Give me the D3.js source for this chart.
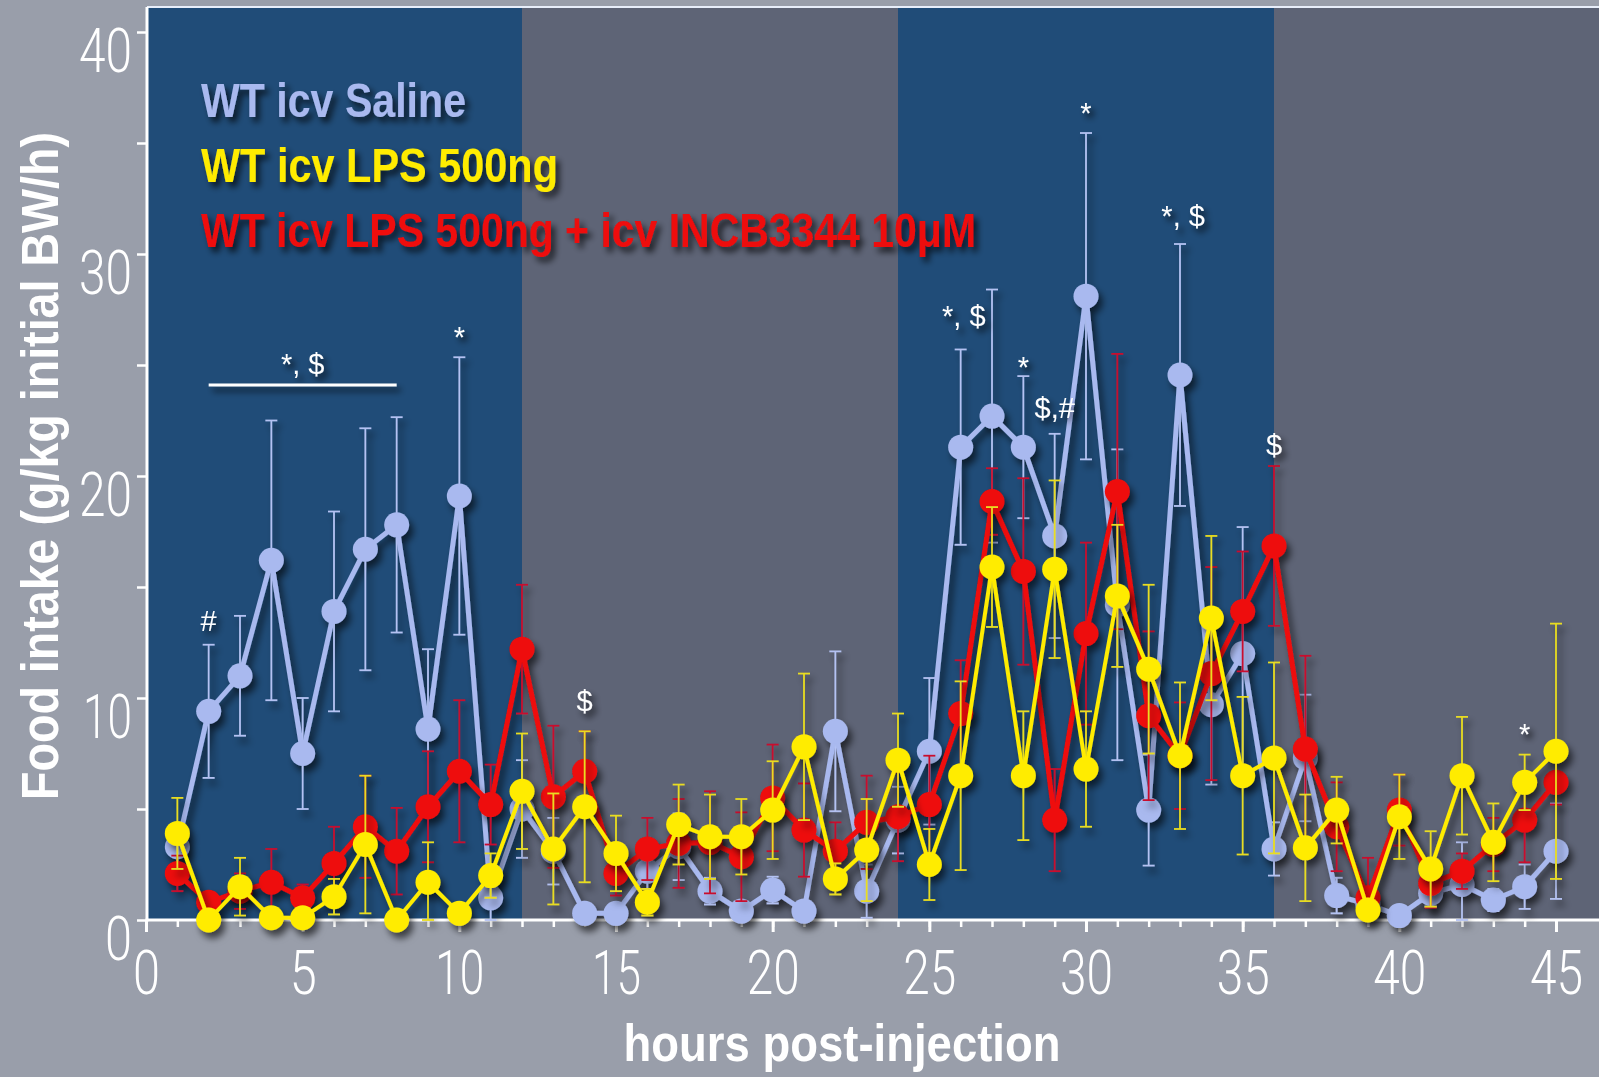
<!DOCTYPE html>
<html>
<head>
<meta charset="utf-8">
<script src="https://cdn.jsdelivr.net/npm/d3@7"></script>
<style>
  html, body { margin: 0; padding: 0; background: #999eaa; }
  svg { display: block; }
</style>
</head>
<body>
<svg id="chart" width="1599" height="1077"></svg>
<script>
// Hourly food intake (g/kg initial BW/h), hours 1..45 after icv injection
const hours = d3.range(1, 46);

const saline = [3.3, 9.4, 11.0, 16.2, 7.5, 13.9, 16.7, 17.8, 8.6, 19.1,
                1.0, 5.0, 3.1, 0.3, 0.3, 2.2, 3.3, 1.3, 0.4, 1.35,
                0.4, 8.5, 1.3, 4.5, 7.6, 21.3, 22.7, 21.3, 17.3, 28.1,
                14.2, 4.95, 24.55, 9.7, 12.0, 3.2, 7.3, 1.1, 0.7, 0.2,
                1.2, 1.6, 0.9, 1.5, 3.1];
const salineErr = [0.8, 3.0, 2.7, 6.3, 2.5, 4.5, 5.45, 4.85, 3.6, 6.25,
                   1.2, 2.2, 1.5, 0.2, 0.2, 0.8, 1.5, 0.6, 0.3, 0.6,
                   0.3, 3.6, 1.2, 1.5, 3.3, 4.4, 5.7, 3.2, 4.6, 7.35,
                   7.0, 2.5, 5.9, 3.6, 5.7, 1.2, 2.85, 0.8, 0.4, 0.2,
                   0.6, 1.9, 0.5, 1.0, 2.15];

const lps = [3.9, 0.0, 1.5, 0.1, 0.1, 1.05, 3.4, 0.0, 1.7, 0.3,
             2.0, 5.8, 3.2, 5.1, 3.0, 0.8, 4.3, 3.75, 3.75, 4.95,
             7.8, 1.85, 3.15, 7.2, 2.5, 6.5, 15.9, 6.5, 15.8, 6.8,
             14.6, 11.3, 7.4, 13.6, 6.5, 7.3, 3.25, 4.95, 0.45, 4.65,
             2.3, 6.5, 3.5, 6.2, 7.6];
const lpsErr = [1.6, 0.3, 1.3, 0.3, 0.3, 0.8, 3.1, 0.3, 1.8, 0.4,
                1.0, 2.6, 2.5, 3.4, 1.7, 0.6, 1.8, 1.9, 1.7, 2.2,
                3.3, 0.7, 2.3, 2.1, 1.6, 4.25, 2.7, 2.9, 4.0, 2.6,
                3.2, 3.8, 3.3, 3.7, 3.55, 4.3, 2.4, 1.5, 0.4, 1.9,
                1.7, 2.65, 1.75, 1.25, 5.75];

const lpsIncb = [2.1, 0.8, 1.3, 1.7, 1.0, 2.55, 4.2, 3.1, 5.1, 6.7,
                 5.2, 12.2, 5.55, 6.7, 2.1, 3.2, 3.45, 3.5, 2.85, 5.5,
                 4.05, 3.1, 4.4, 4.65, 5.2, 9.3, 18.85, 15.7, 4.5, 12.9,
                 19.3, 9.2, 7.4, 11.1, 13.9, 16.85, 7.7, 4.2, 1.0, 4.95,
                 1.65, 2.2, 3.4, 4.5, 6.2];
const lpsIncbErr = [0.8, 0.4, 0.8, 1.5, 0.6, 1.65, 2.3, 1.95, 2.5, 3.2,
                    1.8, 2.9, 3.2, 1.8, 1.0, 1.4, 2.0, 2.3, 2.0, 2.4,
                    2.1, 1.3, 2.1, 2.0, 2.2, 2.4, 1.5, 4.2, 2.3, 4.1,
                    6.2, 3.8, 2.4, 4.8, 2.7, 3.6, 4.2, 2.0, 1.8, 1.6,
                    1.1, 0.8, 1.2, 1.9, 1.0];

const seriesNames = ["WT icv Saline", "WT icv LPS 500ng", "WT icv LPS 500ng + icv INCB3344 10\u03bcM"];

// light/dark phases (hours)
const phaseStarts = [0, 12, 24, 36];
const phaseEnds   = [12, 24, 36, 48];
const phaseDark   = [true, false, true, false];

const yTicks = [0, 5, 10, 15, 20, 25, 30, 35, 40];
const xMajorTicks = [0, 5, 10, 15, 20, 25, 30, 35, 40, 45];
const xMinorTicks = d3.range(0, 46);

// significance marks: hour, level (g/kg/h) of text baseline, label
const marks = [
  { h: 5,    v: 24.6,  t: "*, $" },
  { h: 10,   v: 25.8,  t: "*" },
  { h: 2,    v: 13.0,  t: "#" },
  { h: 14,   v: 9.4,   t: "$" },
  { h: 26.1, v: 26.75, t: "*, $" },
  { h: 28,   v: 24.45, t: "*" },
  { h: 29,   v: 22.6,  t: "$,#" },
  { h: 30,   v: 35.9,  t: "*" },
  { h: 33.1, v: 31.26, t: "*, $" },
  { h: 36,   v: 20.95, t: "$" },
  { h: 44,   v: 7.93,  t: "*" }
];
const bracket = { from: 2, to: 8, v: 24.1 };

const W = 1599, H = 1077;
const svg = d3.select("#chart");

const x = d3.scaleLinear().domain([0, 45]).range([146, 1556]);
const y = d3.scaleLinear().domain([0, 40]).range([920, 32]);
const plotTop = 7, plotLeft = 147;

const defs = svg.append("defs");
const sh = defs.append("filter").attr("id", "shadow")
  .attr("x", "-10%").attr("y", "-10%").attr("width", "130%").attr("height", "130%");
sh.append("feDropShadow").attr("dx", 4).attr("dy", 6).attr("stdDeviation", 3.5)
  .attr("flood-color", "#000").attr("flood-opacity", 0.6);
const tsh = defs.append("filter").attr("id", "textShadow")
  .attr("x", "-10%").attr("y", "-20%").attr("width", "130%").attr("height", "160%");
tsh.append("feDropShadow").attr("dx", 4).attr("dy", 5).attr("stdDeviation", 3)
  .attr("flood-color", "#000").attr("flood-opacity", 0.7);

defs.append("clipPath").attr("id", "plotClip")
  .append("rect").attr("x", plotLeft).attr("y", plotTop)
  .attr("width", W - plotLeft).attr("height", y(0) - plotTop);

// background
svg.append("rect").attr("width", W).attr("height", H).attr("fill", "#999eaa");

// phase bands
svg.append("g").attr("clip-path", "url(#plotClip)")
  .selectAll("rect").data(phaseStarts).join("rect")
  .attr("x", (d) => x(d))
  .attr("y", plotTop)
  .attr("width", (d, i) => x(phaseEnds[i]) - x(d))
  .attr("height", y(0) - plotTop)
  .attr("fill", (d, i) => phaseDark[i] ? "#204c78" : "#5e6476");

// frame top
svg.append("line").attr("x1", plotLeft).attr("x2", W).attr("y1", plotTop).attr("y2", plotTop)
  .attr("stroke", "#e8eefa").attr("stroke-width", 2);

// axes
const tickFont = "Roboto, 'Open Sans', 'Liberation Sans', sans-serif";
function digitsWidth(s) { return s.length * 26 - (s.includes("1") ? 4 : 0); }

const yAxis = svg.append("g").attr("transform", `translate(${plotLeft},0)`)
  .call(d3.axisLeft(y).tickValues(yTicks).tickSize(10).tickSizeOuter(0)
    .tickFormat((d) => d % 10 === 0 ? String(d) : ""));
yAxis.select(".domain").remove();
yAxis.selectAll(".tick line").attr("stroke", "#fff").attr("stroke-width", 2.5);
yAxis.selectAll(".tick text")
  .attr("x", -15).attr("y", 39).attr("dy", null)
  .attr("text-anchor", "end")
  .attr("fill", "#fff")
  .style("font-family", tickFont).style("font-weight", 300).style("font-size", "61px")
  .each(function (d) {
    const s = d % 10 === 0 ? String(d) : "";
    if (s) d3.select(this).attr("textLength", digitsWidth(s) + 1).attr("lengthAdjust", "spacingAndGlyphs");
  });
svg.append("line").attr("x1", plotLeft).attr("x2", plotLeft).attr("y1", plotTop).attr("y2", y(0) + 1.5)
  .attr("stroke", "#fff").attr("stroke-width", 3);

const xMinor = svg.append("g").attr("transform", `translate(0,${y(0)})`)
  .call(d3.axisBottom(x).tickValues(xMinorTicks).tickSize(7).tickSizeOuter(0).tickFormat(""));
xMinor.select(".domain").remove();
xMinor.selectAll(".tick line").attr("stroke", "#fff").attr("stroke-width", 2.5);

const xMajor = svg.append("g").attr("transform", `translate(0,${y(0)})`)
  .call(d3.axisBottom(x).tickValues(xMajorTicks).tickSize(12).tickSizeOuter(0));
xMajor.select(".domain").remove();
xMajor.selectAll(".tick line").attr("stroke", "#fff").attr("stroke-width", 3);
xMajor.selectAll(".tick text")
  .attr("y", 74).attr("dy", null)
  .attr("fill", "#fff")
  .style("font-family", tickFont).style("font-weight", 300).style("font-size", "61px")
  .attr("textLength", (d) => digitsWidth(String(d)) + 1)
  .attr("lengthAdjust", "spacingAndGlyphs");
svg.append("line").attr("x1", plotLeft - 1.5).attr("x2", W).attr("y1", y(0)).attr("y2", y(0))
  .attr("stroke", "#fff").attr("stroke-width", 3);

// axis titles
const titleFont = "'Liberation Sans Narrow', 'Arial Narrow', 'Liberation Sans', Arial, sans-serif";
svg.append("text")
  .attr("transform", "translate(58,466) rotate(-90)")
  .attr("text-anchor", "middle")
  .attr("fill", "#fff")
  .style("font-family", titleFont).style("font-weight", 700).style("font-size", "51px")
  .attr("textLength", 668).attr("lengthAdjust", "spacingAndGlyphs")
  .text("Food intake (g/kg initial BW/h)");
svg.append("text")
  .attr("x", 842).attr("y", 1061)
  .attr("text-anchor", "middle")
  .attr("fill", "#fff")
  .style("font-family", titleFont).style("font-weight", 700).style("font-size", "52px")
  .attr("textLength", 437).attr("lengthAdjust", "spacingAndGlyphs")
  .text("hours post-injection");

// data series
const series = [
  { vals: saline,  err: salineErr,  color: "#a9b9ef", errColor: "#b4c2f2", lw: 5 },
  { vals: lpsIncb, err: lpsIncbErr, color: "#ee0a0a", errColor: "#c8102e", lw: 5 },
  { vals: lps,     err: lpsErr,     color: "#ffec00", errColor: "#e8dc20", lw: 4 }
];

const line = d3.line().x((d, i) => x(hours[i])).y((d) => y(d));

series.forEach((s) => {
  const g = svg.append("g").attr("filter", "url(#shadow)");
  const eb = g.append("g").attr("stroke", s.errColor).attr("stroke-width", 1.8).attr("fill", "none");
  hours.forEach((h, i) => {
    const lo = y(Math.max(0, s.vals[i] - s.err[i]));
    const hi = y(s.vals[i] + s.err[i]);
    const cx = x(h);
    eb.append("line").attr("x1", cx).attr("x2", cx).attr("y1", lo).attr("y2", hi);
    eb.append("line").attr("x1", cx - 6).attr("x2", cx + 6).attr("y1", hi).attr("y2", hi);
    eb.append("line").attr("x1", cx - 6).attr("x2", cx + 6).attr("y1", lo).attr("y2", lo);
  });
  g.append("path").datum(s.vals)
    .attr("d", line)
    .attr("fill", "none")
    .attr("stroke", s.color)
    .attr("stroke-width", s.lw)
    .attr("stroke-linejoin", "round");
  g.selectAll("circle").data(s.vals).join("circle")
    .attr("cx", (d, i) => x(hours[i]))
    .attr("cy", (d) => y(d))
    .attr("r", 12.5)
    .attr("fill", s.color);
});

// significance marks
const mg = svg.append("g").attr("filter", "url(#textShadow)");
mg.append("line")
  .attr("x1", x(bracket.from)).attr("x2", x(bracket.to))
  .attr("y1", y(bracket.v)).attr("y2", y(bracket.v))
  .attr("stroke", "#fff").attr("stroke-width", 3);
mg.selectAll("text").data(marks).join("text")
  .attr("x", (d) => x(d.h))
  .attr("y", (d) => y(d.v))
  .attr("text-anchor", "middle")
  .attr("fill", "#fff")
  .style("font-family", "'Liberation Sans', Arial, sans-serif")
  .style("font-size", "29px")
  .text((d) => d.t);

// legend
const legendColors = ["#a9b9ef", "#ffec00", "#ee0a0a"];
const legendWidths = [265, 357, 775];
const legendBaselines = [117, 182, 247];
svg.append("g").attr("filter", "url(#textShadow)")
  .selectAll("text").data(seriesNames).join("text")
  .attr("x", 201)
  .attr("y", (d, i) => legendBaselines[i])
  .attr("fill", (d, i) => legendColors[i])
  .style("font-family", titleFont).style("font-weight", 700).style("font-size", "49px")
  .attr("textLength", (d, i) => legendWidths[i]).attr("lengthAdjust", "spacingAndGlyphs")
  .text((d) => d);
</script>
</body>
</html>
